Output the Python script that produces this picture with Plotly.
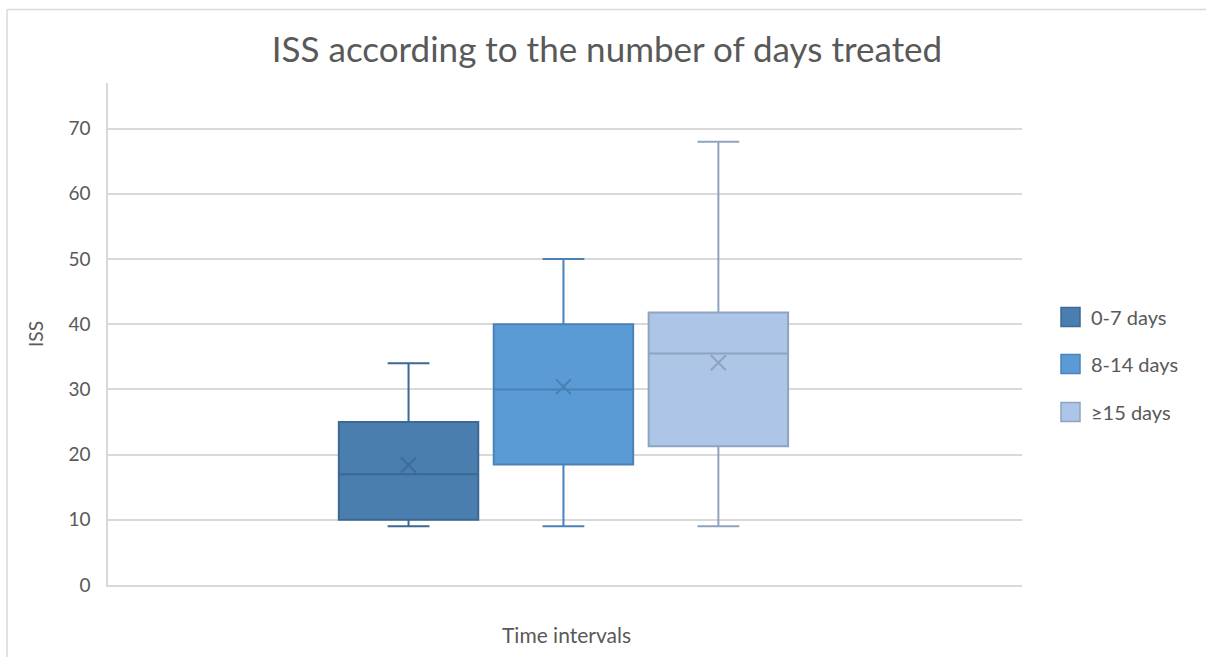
import plotly.graph_objects as go

# ISS summary statistics per treatment duration
groups = ["0-7 days", "8-14 days", "≥15 days"]
positions = [1, 2, 3]
lower_whisker = [9, 9, 9]
q1_values = [10, 18.5, 21.3]
median_values = [17, 30, 35.5]
q3_values = [25, 40, 41.8]
upper_whisker = [34, 50, 68]
mean_values = [18.4, 30.4, 34.1]

y_ticks = [0, 10, 20, 30, 40, 50, 60, 70]

fills = ["#4A7EAF", "#5B9BD5", "#ADC5E6"]
edges = ["#3C6892", "#4A82B8", "#8FA4BF"]
mean_marks = ["#3E6C97", "#4A80B4", "#8FA3BD"]

FONT = "Lato, 'Open Sans', sans-serif"
TEXT = "#595959"
GRID = "#D9D9D9"

# plot-area geometry in pixels (used to place the legend and frame)
L, R, T, B = 108, 1022, 83, 585
W, H = R - L, B - T


def px_x(px):
    return (px - L) / W


def px_y(py):
    return (B - py) / H


fig = go.Figure()

for i, name in enumerate(groups):
    fig.add_trace(go.Box(
        name=name,
        x=[positions[i]],
        q1=[q1_values[i]],
        median=[median_values[i]],
        q3=[q3_values[i]],
        lowerfence=[lower_whisker[i]],
        upperfence=[upper_whisker[i]],
        width=0.9,
        whiskerwidth=0.3,
        fillcolor=fills[i],
        line=dict(color=edges[i], width=2),
        boxpoints=False,
        showlegend=False,
        hoverinfo="skip",
    ))

for i, name in enumerate(groups):
    fig.add_trace(go.Scatter(
        x=[positions[i]],
        y=[mean_values[i]],
        mode="markers",
        marker=dict(symbol="x-thin", size=15,
                    line=dict(color=mean_marks[i], width=2)),
        showlegend=False,
        hoverinfo="skip",
    ))

# outer chart frame: top and left edges
shapes = [
    dict(type="line", xref="paper", yref="paper",
         x0=px_x(7), x1=px_x(1206), y0=px_y(9.5), y1=px_y(9.5),
         line=dict(color=GRID, width=1.5), layer="below"),
    dict(type="line", xref="paper", yref="paper",
         x0=px_x(7), x1=px_x(7), y0=px_y(9.5), y1=px_y(657),
         line=dict(color=GRID, width=1.5), layer="below"),
]
annotations = [dict(
    text="Time intervals",
    xref="paper", yref="paper",
    x=(566 - L) / W, y=px_y(634),
    xanchor="center", yanchor="middle",
    showarrow=False,
    font=dict(family=FONT, size=21, color=TEXT),
)]

# legend: coloured squares with labels to the right of the plot
legend_rows = [317, 364, 412]
for i, name in enumerate(groups):
    cy = legend_rows[i]
    shapes.append(dict(
        type="rect",
        xref="paper", yref="paper",
        x0=px_x(1061), x1=px_x(1080),
        y0=px_y(cy + 9.5), y1=px_y(cy - 9.5),
        line=dict(color=edges[i], width=1.5),
        fillcolor=fills[i],
    ))
    annotations.append(dict(
        text=name,
        xref="paper", yref="paper",
        x=px_x(1089), y=px_y(cy),
        xanchor="left", yanchor="middle",
        showarrow=False,
        font=dict(family=FONT, size=20, color=TEXT),
    ))

fig.update_layout(
    width=1206,
    height=657,
    margin=dict(l=L, r=1206 - R, t=T, b=657 - B, autoexpand=False),
    paper_bgcolor="white",
    plot_bgcolor="white",
    font=dict(family=FONT, color=TEXT, size=20),
    title=dict(
        text="ISS according to the number of days treated",
        x=607 / 1206,
        xanchor="center",
        y=1 - 50 / 657,
        yanchor="middle",
        font=dict(family=FONT, size=35, color=TEXT),
    ),
    showlegend=False,
    xaxis=dict(
        range=[-0.94, 4.96],
        showticklabels=False,
        showgrid=False,
        zeroline=False,
        showline=True,
        linecolor=GRID,
        linewidth=1.5,
        fixedrange=True,
    ),
    yaxis=dict(
        range=[0, 77],
        tickvals=y_ticks,
        ticktext=[str(v) for v in y_ticks],
        showgrid=True,
        gridcolor=GRID,
        gridwidth=1.5,
        zeroline=False,
        showline=True,
        linecolor=GRID,
        linewidth=1.5,
        ticks="outside",
        ticklen=12,
        tickcolor="rgba(0,0,0,0)",
        tickfont=dict(family=FONT, size=19, color=TEXT),
        title=dict(text="ISS", font=dict(family=FONT, size=19, color=TEXT),
                   standoff=20),
        fixedrange=True,
    ),
    annotations=annotations,
    shapes=shapes,
)

fig.write_html("out.html")
